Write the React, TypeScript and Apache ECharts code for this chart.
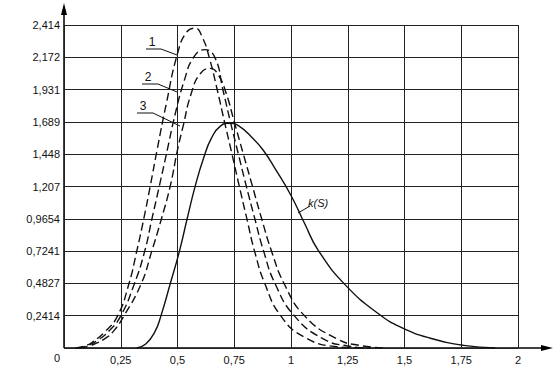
import React, { useEffect, useRef } from "react";
import * as echarts from "echarts";

// S values and curve values
const curve1: [number, number][] = [
  [0.05, 0], [0.1, 0.02], [0.13, 0.05], [0.18, 0.12], [0.236, 0.24], [0.286, 0.48], [0.32, 0.72],
  [0.352, 0.97], [0.38, 1.21], [0.41, 1.48], [0.45, 1.82], [0.5, 2.2], [0.54, 2.36], [0.578, 2.39],
  [0.61, 2.32], [0.64, 2.17], [0.675, 1.93], [0.707, 1.69], [0.74, 1.45], [0.772, 1.21], [0.805, 0.97],
  [0.84, 0.72], [0.885, 0.48], [0.955, 0.24], [1.06, 0.08], [1.2, 0.01], [1.3, 0],
];
const curve2: [number, number][] = [
  [0.06, 0], [0.1, 0.015], [0.15, 0.06], [0.2, 0.13], [0.25, 0.24], [0.31, 0.48], [0.355, 0.72],
  [0.388, 0.97], [0.42, 1.21], [0.455, 1.48], [0.49, 1.75], [0.53, 2.0], [0.57, 2.17], [0.62, 2.23],
  [0.665, 2.17], [0.7, 1.93], [0.733, 1.69], [0.768, 1.45], [0.803, 1.21], [0.84, 0.97], [0.88, 0.72],
  [0.93, 0.48], [1.015, 0.24], [1.14, 0.07], [1.25, 0.015], [1.35, 0],
];
const curve3: [number, number][] = [
  [0.07, 0], [0.12, 0.02], [0.18, 0.07], [0.22, 0.13], [0.264, 0.24], [0.34, 0.48], [0.386, 0.72],
  [0.43, 0.97], [0.468, 1.21], [0.5, 1.48], [0.525, 1.66], [0.56, 1.9], [0.6, 2.05], [0.645, 2.09],
  [0.68, 2.04], [0.715, 1.9], [0.75, 1.69], [0.79, 1.45], [0.83, 1.21], [0.87, 0.97], [0.915, 0.72],
  [0.97, 0.48], [1.06, 0.24], [1.2, 0.07], [1.3, 0.02], [1.42, 0],
];
const kS: [number, number][] = [
  [0.32, 0], [0.36, 0.03], [0.4, 0.12], [0.427, 0.24], [0.468, 0.48], [0.508, 0.72], [0.543, 0.97],
  [0.578, 1.21], [0.615, 1.42], [0.65, 1.57], [0.69, 1.66], [0.73, 1.68], [0.77, 1.66], [0.83, 1.57],
  [0.877, 1.48], [0.93, 1.34], [1.0, 1.14], [1.06, 0.93], [1.12, 0.73], [1.24, 0.47], [1.39, 0.25],
  [1.49, 0.15], [1.61, 0.075], [1.76, 0.02], [1.9, 0],
];

const yTickLabels = ["0", "0,2414", "0,4827", "0,7241", "0,9654", "1,207", "1,448", "1,689", "1,931", "2,172", "2,414"];
const xTickLabels = ["", "0,25", "0,5", "0,75", "1", "1,25", "1,5", "1,75", "2"];
const yStep = 0.2414;
const xStep = 0.25;

const FONT = "Liberation Sans, Arial, sans-serif";

export default function App() {
  const ref = useRef<HTMLDivElement>(null);
  useEffect(() => {
    if (!ref.current) return;
    const chart = echarts.init(ref.current, null, { renderer: "svg" });
    const dash = { type: [8, 4] as any, width: 1.4, color: "#111" };
    const mk = (data: [number, number][], solid = false) => ({
      type: "line",
      data,
      smooth: 0.5,
      showSymbol: false,
      symbol: "none",
      lineStyle: solid ? { width: 1.4, color: "#111" } : dash,
      silent: true,
    });
    chart.setOption({
      animation: false,
      backgroundColor: "#fff",
      grid: { left: 64, top: 25, right: 38, bottom: 31, containLabel: false },
      xAxis: {
        type: "value",
        min: 0,
        max: 2,
        interval: xStep,
        axisLine: { show: false },
        axisTick: { show: false },
        axisLabel: {
          color: "#111",
          fontFamily: FONT,
          fontSize: 11,
          margin: 6,
          formatter: (v: number) => xTickLabels[Math.round(v / xStep)] ?? "",
        },
        splitLine: { show: true, lineStyle: { color: "#222", width: 1 } },
      },
      yAxis: {
        type: "value",
        min: 0,
        max: 2.4140001,
        interval: yStep,
        axisLine: { show: false },
        axisTick: { show: false },
        axisLabel: {
          color: "#111",
          fontFamily: FONT,
          fontSize: 11,
          margin: 4,
          formatter: (v: number) => {
            const i = Math.round(v / yStep);
            return i === 0 ? "" : yTickLabels[i] ?? "";
          },
        },
        splitLine: { show: true, lineStyle: { color: "#222", width: 1 } },
      },
      series: [mk(curve1), mk(curve2), mk(curve3), mk(kS, true)],
      graphic: [
        // axes with arrows
        { type: "line", shape: { x1: 64, y1: 348, x2: 64, y2: 8 }, style: { stroke: "#000", lineWidth: 1.5 } },
        { type: "polygon", shape: { points: [[64, 3], [61, 15], [67, 15]] }, style: { fill: "#000" } },
        { type: "line", shape: { x1: 64, y1: 348, x2: 548, y2: 348 }, style: { stroke: "#000", lineWidth: 1.5 } },
        { type: "polygon", shape: { points: [[553, 348], [541, 345], [541, 351]] }, style: { fill: "#000" } },
        { type: "text", x: 57, y: 358, style: { text: "0", font: `11px ${FONT}`, fill: "#111", textAlign: "center", textVerticalAlign: "middle" } },
        // curve labels
        { type: "text", x: 152, y: 42, style: { text: "1", font: `12px ${FONT}`, fill: "#111", textAlign: "center", textVerticalAlign: "middle" } },
        { type: "polyline", shape: { points: [[146, 49], [161, 49], [177, 55]] }, style: { stroke: "#111", lineWidth: 1, fill: "none" } },
        { type: "text", x: 148, y: 77, style: { text: "2", font: `12px ${FONT}`, fill: "#111", textAlign: "center", textVerticalAlign: "middle" } },
        { type: "polyline", shape: { points: [[142, 84], [158, 84], [177, 92]] }, style: { stroke: "#111", lineWidth: 1, fill: "none" } },
        { type: "text", x: 143, y: 106, style: { text: "3", font: `12px ${FONT}`, fill: "#111", textAlign: "center", textVerticalAlign: "middle" } },
        { type: "polyline", shape: { points: [[137, 113], [153, 113], [180, 126]] }, style: { stroke: "#111", lineWidth: 1, fill: "none" } },
        { type: "text", x: 308, y: 203, style: { text: "k(S)", font: `italic 11px ${FONT}`, fill: "#111", textAlign: "left", textVerticalAlign: "middle" } },
        { type: "line", shape: { x1: 310, y1: 206, x2: 298, y2: 213 }, style: { stroke: "#111", lineWidth: 1 } },
      ],
    });
    return () => chart.dispose();
  }, []);
  return <div ref={ref} style={{ width: 556, height: 379, position: "absolute", left: 0, top: 0 }} />;
}
